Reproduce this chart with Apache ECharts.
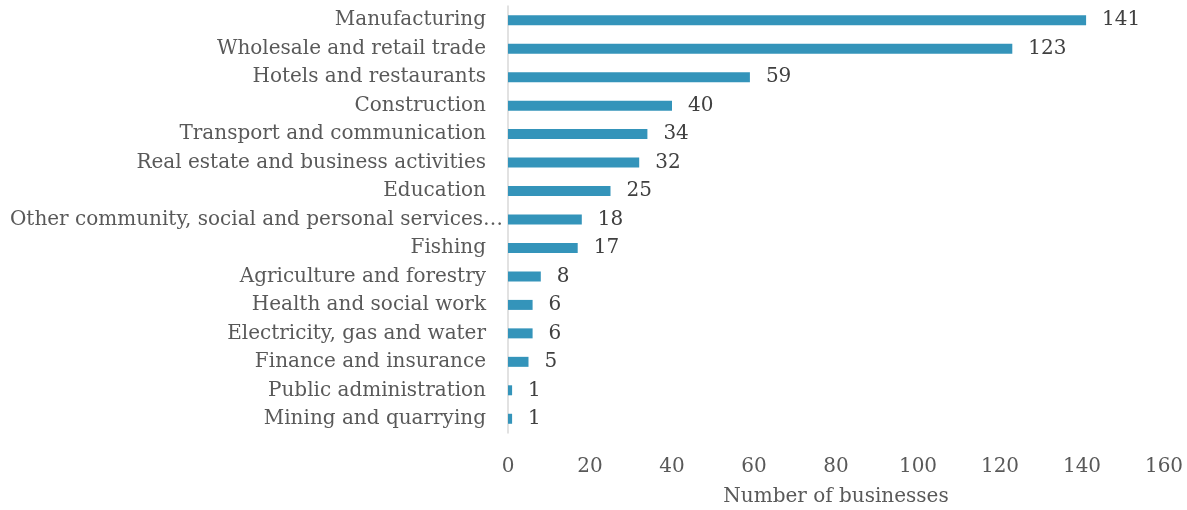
<!DOCTYPE html>
<html>
<head>
<meta charset="utf-8">
<script src="https://cdn.jsdelivr.net/npm/echarts@6/dist/echarts.min.js"></script>
<style>
  html, body { margin: 0; padding: 0; background: #ffffff; }
  #chart { width: 1187px; height: 510px; }
</style>
</head>
<body>
<div id="chart"></div>
<script>
// Industries, listed top to bottom
const categories = [
  "Manufacturing",
  "Wholesale and retail trade",
  "Hotels and restaurants",
  "Construction",
  "Transport and communication",
  "Real estate and business activities",
  "Education",
  "Other community, social and personal services…",
  "Fishing",
  "Agriculture and forestry",
  "Health and social work",
  "Electricity, gas and water",
  "Finance and insurance",
  "Public administration",
  "Mining and quarrying"
];
const businessCounts = [141, 123, 59, 40, 34, 32, 25, 18, 17, 8, 6, 6, 5, 1, 1];
const xTicks = [0, 20, 40, 60, 80, 100, 120, 140, 160];

const FONT = "DejaVu Serif";
const chart = echarts.init(document.getElementById("chart"), null, { renderer: "canvas" });

// The truncated label (ending in an ellipsis) runs a little closer to the axis
const yCategoryData = categories.map(function (c) {
  return c.endsWith("…") ? { value: c, textStyle: { padding: [0, -17, 0, 0] } } : c;
});

chart.setOption({
  animation: false,
  backgroundColor: "#ffffff",
  grid: { left: 508, right: 23, top: 6, bottom: 77, containLabel: false, outerBoundsMode: "none" },
  xAxis: {
    type: "value",
    min: xTicks[0],
    max: xTicks[xTicks.length - 1],
    interval: xTicks[1] - xTicks[0],
    name: "Number of businesses",
    nameLocation: "middle",
    nameGap: 54,
    nameTextStyle: { fontFamily: FONT, fontSize: 20, color: "#595959" },
    axisLine: { show: false },
    axisTick: { show: false },
    splitLine: { show: false },
    axisLabel: { fontFamily: FONT, fontSize: 20, color: "#595959", margin: 24 }
  },
  yAxis: {
    type: "category",
    inverse: true,
    data: yCategoryData,
    axisLine: { show: true, lineStyle: { color: "#d9d9d9", width: 1.5 } },
    axisTick: { show: false },
    axisLabel: { fontFamily: FONT, fontSize: 20, color: "#595959", margin: 22 }
  },
  series: [{
    type: "bar",
    data: businessCounts,
    barWidth: 10,
    itemStyle: { color: "#3494ba" },
    label: {
      show: true,
      position: "right",
      distance: 16,
      fontFamily: FONT,
      fontSize: 20,
      color: "#404040"
    }
  }]
});
</script>
</body>
</html>
